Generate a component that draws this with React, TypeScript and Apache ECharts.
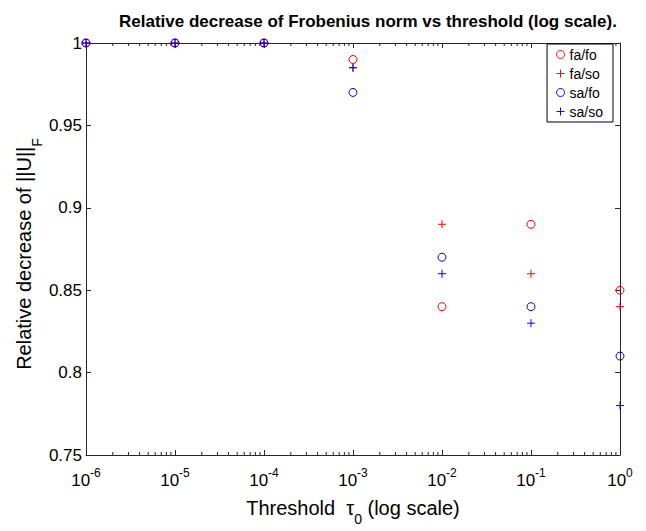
import React, { useEffect, useRef } from 'react';
import * as echarts from 'echarts';

const thresholds = [1e-6, 1e-5, 1e-4, 1e-3, 1e-2, 1e-1, 1];
const faFo = [1, 1, 1, 0.99, 0.84, 0.89, 0.85];
const faSo = [1, 1, 1, 0.985, 0.89, 0.86, 0.84];
const saFo = [1, 1, 1, 0.97, 0.87, 0.84, 0.81];
const saSo = [1, 1, 1, 0.985, 0.86, 0.83, 0.78];
const seriesNames = ['fa/fo', 'fa/so', 'sa/fo', 'sa/so'];
const decadeExps = [-6, -5, -4, -3, -2, -1];
const minorMultipliers = [2, 3, 4, 5, 6, 7, 8, 9];

const FONT = 'Liberation Sans, Arial, Helvetica, sans-serif';
const AXIS = '#262626';
const RED = '#ff0000';
const BLUE = '#0000ff';
const PLUS = 'path://M0,4L8,4M4,0L4,8';

export default function App() {
  const ref = useRef<HTMLDivElement>(null);
  useEffect(() => {
    if (!ref.current) return;
    const chart = echarts.init(ref.current, undefined, { renderer: 'svg' });
    const minorTicks: number[] = [];
    decadeExps.forEach((e) => minorMultipliers.forEach((k) => minorTicks.push(k * Math.pow(10, e))));
    const pairs = (ys: number[]) => thresholds.map((x, i) => [x, ys[i]]);
    const mk = (name: string, ys: number[], color: string, symbol: string) => ({
      name,
      type: 'scatter',
      data: pairs(ys),
      symbol,
      symbolSize: 8,
      symbolKeepAspect: true,
      itemStyle: { color: 'rgba(0,0,0,0)', borderColor: color, borderWidth: 1, opacity: 1 },
      emphasis: { disabled: true },
      z: 3,
    });
    const xLabelFmt = (v: number) => `{b|10}{s|${Math.round(Math.log10(v))}}`;
    chart.setOption({
      animation: false,
      backgroundColor: '#ffffff',
      textStyle: { fontFamily: FONT },
      title: {
        text: 'Relative decrease of Frobenius norm vs threshold (log scale).',
        left: 114,
        top: 8,
        textStyle: { fontFamily: FONT, fontSize: 17, fontWeight: 'bold', color: '#000' },
      },
      legend: {
        data: seriesNames,
        orient: 'vertical',
        right: 33,
        top: 44,
        itemWidth: 8,
        itemHeight: 8,
        itemGap: 0,
        padding: [1, 10, 1, 9],
        borderColor: '#000',
        borderWidth: 1,
        backgroundColor: '#fff',
        itemStyle: { borderWidth: 1 },
        textStyle: { fontFamily: FONT, fontSize: 14, color: '#000', lineHeight: 19 },
        selectedMode: false,
      },
      grid: { left: 86, right: 26, top: 43, bottom: 69, containLabel: false },
      xAxis: [
        {
          type: 'log',
          logBase: 10,
          min: 1e-6,
          max: 1,
          position: 'bottom',
          axisLine: { show: true, lineStyle: { color: AXIS, width: 1 } },
          axisTick: { show: true, inside: true, length: 5, lineStyle: { color: AXIS } },
          splitLine: { show: false },
          axisLabel: {
            formatter: xLabelFmt,
            margin: 12,
            color: '#000',
            rich: {
              b: { fontFamily: FONT, fontSize: 17, color: '#000', verticalAlign: 'bottom', lineHeight: 22 },
              s: { fontFamily: FONT, fontSize: 12, color: '#000', verticalAlign: 'top', lineHeight: 22 },
            },
          },
          name: '{a|Threshold  τ}{sub|0}{a| (log scale)}',
          nameLocation: 'middle',
          nameGap: 43,
          nameMoveOverlap: false,
          nameTextStyle: {
            rich: {
              a: { fontFamily: FONT, fontSize: 20, color: '#000', verticalAlign: 'top', lineHeight: 28 },
              sub: { fontFamily: FONT, fontSize: 14, color: '#000', verticalAlign: 'bottom', lineHeight: 28 },
            },
          },
        },
        {
          type: 'log',
          logBase: 10,
          min: 1e-6,
          max: 1,
          position: 'top',
          axisLine: { show: true, lineStyle: { color: AXIS, width: 1 } },
          axisTick: { show: true, inside: true, length: 5, lineStyle: { color: AXIS } },
          axisLabel: { show: false },
          splitLine: { show: false },
        },
      ],
      yAxis: [
        {
          type: 'value',
          min: 0.75,
          max: 1,
          interval: 0.05,
          position: 'left',
          axisLine: { show: true, lineStyle: { color: AXIS, width: 1 } },
          axisTick: { show: true, inside: true, length: 5, lineStyle: { color: AXIS } },
          splitLine: { show: false },
          axisLabel: {
            formatter: (v: number) => String(+v.toFixed(2)),
            fontFamily: FONT,
            fontSize: 17,
            color: '#000',
            margin: 4,
          },
          name: '{a|Relative decrease of ||U||}{sub|F}',
          nameLocation: 'middle',
          nameGap: 42,
          nameMoveOverlap: false,
          nameTextStyle: {
            padding: [0, 10, 0, 0],
            rich: {
              a: { fontFamily: FONT, fontSize: 20, color: '#000', verticalAlign: 'top', lineHeight: 30 },
              sub: { fontFamily: FONT, fontSize: 14, color: '#000', verticalAlign: 'bottom', lineHeight: 30 },
            },
          },
        },
        {
          type: 'value',
          min: 0.75,
          max: 1,
          interval: 0.05,
          position: 'right',
          axisLine: { show: true, lineStyle: { color: AXIS, width: 1 } },
          axisTick: { show: true, inside: true, length: 5, lineStyle: { color: AXIS } },
          axisLabel: { show: false },
          splitLine: { show: false },
        },
      ],
      series: [
        {
          type: 'custom',
          silent: true,
          clip: false,
          z: 1,
          data: minorTicks.map((v) => [v, 0.75]),
          renderItem: (_p: any, api: any) => {
            const v = api.value(0);
            const pb = api.coord([v, 0.75]);
            const pt = api.coord([v, 1]);
            return {
              type: 'group',
              children: [
                { type: 'line', shape: { x1: pb[0], y1: pb[1], x2: pb[0], y2: pb[1] - 3 }, style: { stroke: AXIS, lineWidth: 1 } },
                { type: 'line', shape: { x1: pt[0], y1: pt[1], x2: pt[0], y2: pt[1] + 3 }, style: { stroke: AXIS, lineWidth: 1 } },
              ],
            };
          },
        },
        mk('fa/fo', faFo, RED, 'circle'),
        mk('fa/so', faSo, RED, PLUS),
        mk('sa/fo', saFo, BLUE, 'circle'),
        mk('sa/so', saSo, BLUE, PLUS),
      ],
    });
    return () => chart.dispose();
  }, []);
  return <div ref={ref} style={{ position: 'absolute', left: 0, top: 0, width: 646, height: 531, background: '#fff' }} />;
}
